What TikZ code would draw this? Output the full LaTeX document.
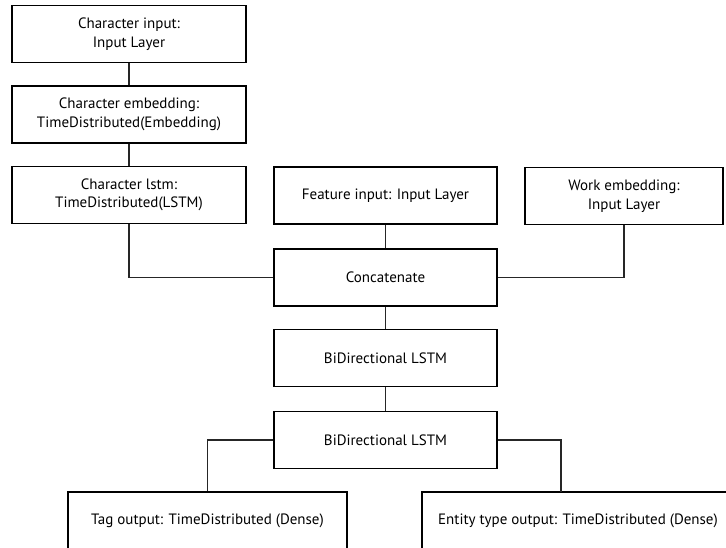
\documentclass[tikz,border=0pt]{standalone}
\usepackage{fontspec}
\setmainfont{PT Sans}
\usetikzlibrary{positioning, calc}

\begin{document}
\begin{tikzpicture}[
    x=1pt, y=-1pt,
    layernode/.style={rectangle, draw=black, line width=1.2pt, minimum width=234pt, minimum height=57pt, align=center, font=\fontsize{15}{18.5}\selectfont, inner sep=0pt},
    midnode/.style={layernode, minimum width=223pt},
    link/.style={draw=black!85, line width=1.2pt}
]
\useasboundingbox (0,0) rectangle (726,548);
\clip (0,0) rectangle (726,548);
% left column
\node[layernode](charin) at (129,34){Character input:\\Input Layer};
\node[layernode](charemb) at (129,114.5){Character embedding:\\TimeDistributed(Embedding)};
\node[layernode](charlstm) at (129,195){Character lstm:\\TimeDistributed(LSTM)};
% middle column
\node[midnode](featin) at (385.5,195.5){Feature input: Input Layer};
\node[layernode, minimum width=198pt](workemb) at (624,196){Work embedding:\\Input Layer};
\node[midnode](concat) at (385.5,277.5){Concatenate};
\node[midnode](bilstma) at (385.5,358){BiDirectional LSTM};
\node[midnode](bilstmb) at (385.5,440){BiDirectional LSTM};
% outputs
\node[layernode, minimum width=279pt](tagout) at (207.5,520.5){Tag output: TimeDistributed (Dense)};
\node[layernode, minimum width=312pt](entout) at (578,520.5){Entity type output: TimeDistributed (Dense)};
\coordinate (entin) at (561,492);
% connectors
\draw[link] (charin) -- (charemb);
\draw[link] (charemb) -- (charlstm);
\draw[link] (charlstm.south) |- (concat.west);
\draw[link] (featin) -- (concat);
\draw[link] (workemb.south) |- (concat.east);
\draw[link] (concat) -- (bilstma);
\draw[link] (bilstma) -- (bilstmb);
\draw[link] (bilstmb.west) -| (tagout.north);
\draw[link] (bilstmb.east) -| (entin);
\end{tikzpicture}
\end{document}
